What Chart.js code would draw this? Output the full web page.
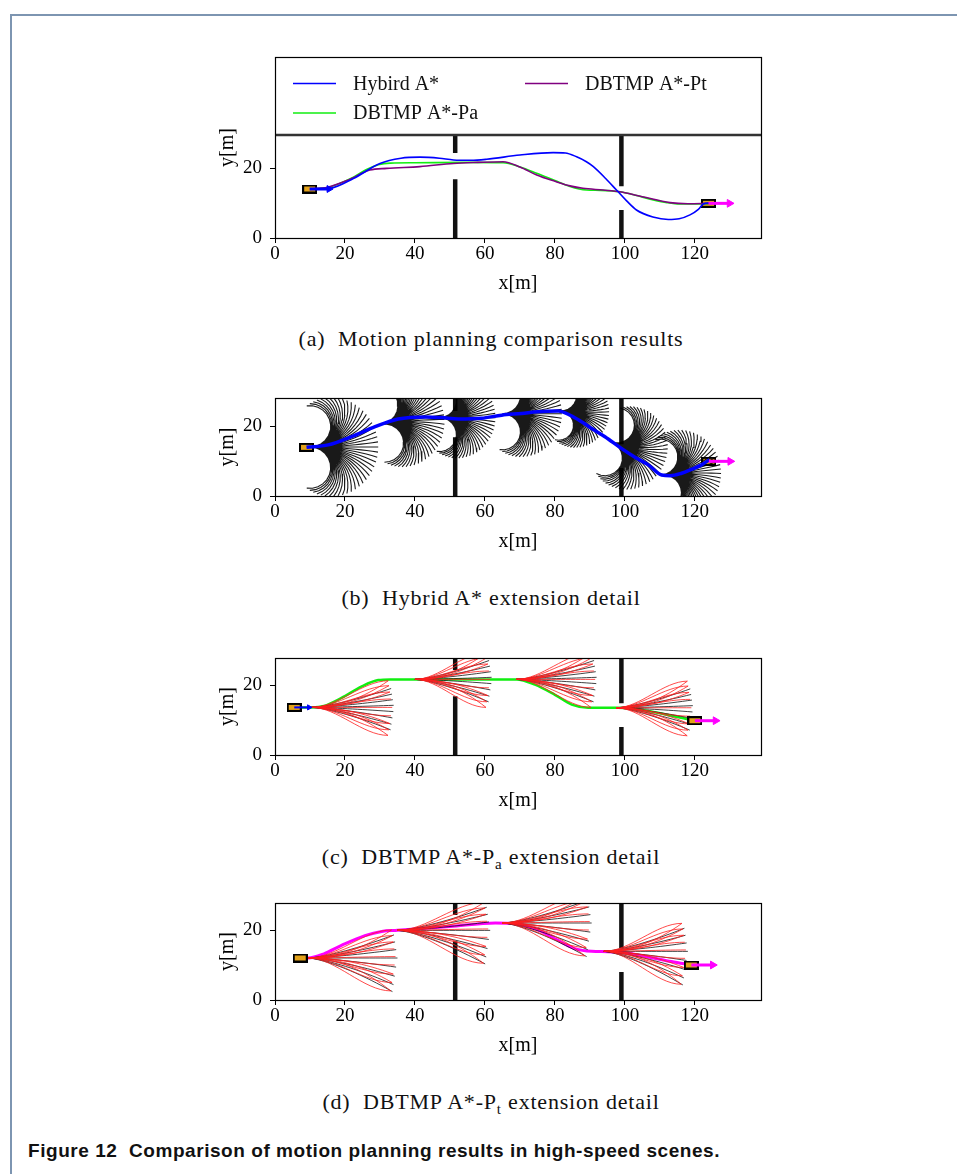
<!DOCTYPE html>
<html>
<head>
<meta charset="utf-8">
<script src="https://cdn.jsdelivr.net/npm/chart.js@4.4.1/dist/chart.umd.min.js"></script>
<style>
  body { margin: 0; background: #fff; width: 957px; height: 1174px; position: relative; overflow: hidden; }
  .frame { position: absolute; left: 10px; top: 14px; right: -10px; bottom: -10px;
           border-left: 2px solid #7d95b1; border-top: 2px solid #7d95b1; }
  .panel { position: absolute; left: 190px; width: 590px; }
  .sub { position: absolute; left: 0; width: 982px; text-align: center; line-height: 24px;
         font-family: "Liberation Serif", serif; font-size: 22px; letter-spacing: 0.8px; color: #111; }
  .sub i { font-style: normal; font-size: 15px; position: relative; top: 5px; }
  .fig { position: absolute; left: 28px; top: 1139px; line-height: 24px; letter-spacing: 0.55px;
         font-family: "Liberation Sans", sans-serif; font-weight: bold; font-size: 19px; color: #111; }
</style>
</head>
<body>
<div class="frame"></div>
<div class="panel" style="top:37px;height:261px"><canvas id="chartA"></canvas></div>
<div class="sub" style="top:327px">(a)&nbsp; Motion planning comparison results</div>
<div class="panel" style="top:378px;height:178px"><canvas id="chartB"></canvas></div>
<div class="sub" style="top:586px">(b)&nbsp; Hybrid A* extension detail</div>
<div class="panel" style="top:638px;height:177px"><canvas id="chartC"></canvas></div>
<div class="sub" style="top:845px">(c)&nbsp; DBTMP A*-P<i>a</i> extension detail</div>
<div class="panel" style="top:883px;height:177px"><canvas id="chartD"></canvas></div>
<div class="sub" style="top:1090px">(d)&nbsp; DBTMP A*-P<i>t</i> extension detail</div>
<div class="fig">Figure 12&nbsp; Comparison of motion planning results in high-speed scenes.</div>

<script>
"use strict";

// ---- axes ----
const xTicks = [0, 20, 40, 60, 80, 100, 120];
const yTicks = [0, 20];
const X_MAX = 138.9;
const chartTops = [57, 398, 658, 903];
const chartBottoms = [238, 496, 755, 1000];

// ---- scene: walls (x, yTop, yBottom) and the road edge in (a) ----
const wallSegments = [[51.5, 29.4, 24.3], [51.5, 16.8, -1], [99, 29.4, 14.8], [99, 8, -1]];
const roadEdgeY = 29.4;

// ---- vehicles ----
const startCar = [[9.9, 14], [9, 13.9], [5.5, 13.6], [7.2, 12]];
const endCar = [[123.9, 9.9], [124, 9.9], [120, 9.8], [119, 10]];
const startArrowTip = [16.6, null, 10.6, null];
const endArrowTip = [131.2, 131.4, 127.2, 126.4];

// ---- (a) planned paths ----
const hybridPathA = [[10, 14], [15.7, 14.2], [22.4, 17], [30, 21.3], [36, 22.8], [41.4, 23.1], [47, 22.8],
  [51, 22.3], [56, 22.2], [60.5, 22.5], [70, 23.7], [79.5, 24.4], [83, 24.3], [86.2, 23.2], [89, 21.8],
  [91, 20.4], [94.5, 17], [97.6, 13.7], [100.5, 10.6], [103.3, 8], [108, 6], [112.4, 5.3], [115.5, 5.5],
  [118.6, 6.6], [121, 8.2], [122.4, 9.7], [124, 10]];
const paPathA = [[10, 14], [15, 14.4], [22.4, 17.4], [26, 19.5], [29.5, 20.9], [33, 21.4], [40, 21.5],
  [55, 21.6], [65.2, 21.5], [70, 20.3], [74.8, 18.5], [80, 16.4], [84.3, 14.7], [89, 13.7], [93, 13.6],
  [98.6, 13.2], [103, 12.2], [108.1, 10.9], [112, 10.1], [115.7, 9.7], [124, 9.8]];
const ptPathA = [[10, 14], [15, 14.5], [21, 16.6], [27.1, 19.4], [31.9, 19.9], [41.4, 20.4], [51, 21.3],
  [58, 21.6], [65.2, 21.8], [70, 20.3], [74.8, 18], [80, 16.2], [84.3, 14.9], [88, 14.2], [93.8, 13.7],
  [98.6, 13.2], [105, 11.8], [112.9, 10.1], [118, 9.8], [124, 9.9]];

// ---- (b) hybrid A* path and expansion nodes ----
const hybridPathB = [[9, 13.9], [15.2, 14.6], [21.9, 16.95], [28.6, 19.8], [35.2, 22], [42.9, 22.6],
  [47.6, 22.4], [52.4, 22], [59, 22.2], [64.8, 23.1], [70.5, 23.6], [75, 24.1], [81, 24.3], [84.5, 23],
  [87.6, 21.2], [91, 19], [94.3, 16.95], [99, 13.6], [103, 11], [106.7, 8.9], [110.5, 6], [113, 5.8],
  [116.2, 6.5], [119, 7.6], [121.9, 8.9], [124.2, 10.4]];
const arcNodeX = [10, 30.5, 47, 65, 81.5, 96, 110.5];
const arcNodeY = [14, 20.5, 22.4, 23.5, 24.4, 15.5, 6];
const arcNodeHeading = [0, 0.15, 0, 0, -0.1, -0.35, 0.1];
const arcNodeLength = [19.5, 18, 16, 17, 14, 16.5, 17];
const ARC_COUNT = 45;
const ARC_SWEEP = 1.05 * Math.PI;

// ---- (c) DBTMP A*-Pa ----
const paPathC = [[5.5, 13.6], [10.5, 13.6], [14, 14], [19, 16.3], [24.8, 19.6], [29.5, 21.4], [33, 21.6],
  [69, 21.6], [74.3, 20.1], [80, 17.2], [84.8, 14.4], [89.5, 13.5], [98, 13.5], [106.7, 12.6],
  [113.3, 11.2], [120, 9.8]];
const laneNodesC = [[10.5, 13.6], [40, 21.6], [69, 21.6], [97.5, 13.5]];
const laneLengthC = [23, 21.5, 22.5, 21.5];
const redEndsC = [7.6, 6.2, 4.4, 2.4, 0, -2.4, -4.6, -6.4, -8];
const blackEndsC = [5.4, 3.8, 2.2, 0.6, -1.2, -3, -4.8, -6.4];

// ---- (d) DBTMP A*-Pt ----
const ptPathD = [[7.2, 12], [9.5, 12], [14, 13.2], [19, 15.6], [25.7, 18.4], [30.5, 19.6], [35, 19.9],
  [50, 21], [63, 22], [68.6, 21.8], [74.3, 20.4], [80, 17.5], [85.7, 14.7], [90.5, 13.9], [95, 13.8],
  [100, 13.5], [106.7, 12.3], [113.3, 11], [119, 10]];
const laneNodesD = [[9.5, 12], [35, 19.9], [65, 22], [94, 13.9]];
const laneLengthD = [25, 26, 25, 23.5];
const redEndsD = [8, 6.4, 4.6, 2.6, 0.4, -2, -4.6, -7, -9.4];
const blackEndsD = [6.6, 4.6, 2.4, 0, -2.6, -5.2, -7.6, -9.6];

// ---------------------------------------------------------------

const toPts = (arr) => arr.map(([x, y]) => ({ x, y }));

// several polylines packed into one dataset, split by null points
function packLines(lines) {
  const out = [];
  lines.forEach((line, i) => {
    if (i) out.push({ x: null, y: null });
    line.forEach(([x, y]) => out.push({ x, y }));
  });
  return out;
}

// constant-curvature motion primitives fanning out of one node
function arcFan(x0, y0, h, len) {
  const lines = [];
  for (let k = 0; k < ARC_COUNT; k++) {
    const phi = -ARC_SWEEP + (2 * ARC_SWEEP * k) / (ARC_COUNT - 1);
    const pts = [];
    for (let i = 0; i <= 12; i++) {
      const s = (len * i) / 12;
      const a = (phi * i) / 12;
      if (Math.abs(phi) < 1e-6) {
        pts.push([x0 + s * Math.cos(h), y0 + s * Math.sin(h)]);
      } else {
        const r = len / phi;
        pts.push([x0 + r * (Math.sin(h + a) - Math.sin(h)), y0 - r * (Math.cos(h + a) - Math.cos(h))]);
      }
    }
    lines.push(pts);
  }
  return lines;
}

const sCurve = (t) => t * t * (3 - 2 * t);
const bowCurve = (t) => t * t;
const rayCurve = (t) => Math.pow(t, 1.4);

// lane-change candidates from one node towards lateral offsets
function laneFan(x0, y0, len, ends, shape) {
  return ends.map((dy) => {
    const pts = [];
    const l = len - 0.15 * Math.abs(dy);
    for (let i = 0; i <= 16; i++) {
      const t = i / 16;
      pts.push([x0 + l * t, y0 + dy * shape(t)]);
    }
    return pts;
  });
}

function carIcon() {
  const c = document.createElement("canvas");
  c.width = 15;
  c.height = 9;
  const g = c.getContext("2d");
  g.fillStyle = "#000";
  g.fillRect(0, 0, 15, 9);
  g.fillStyle = "#e3a21a";
  g.fillRect(2, 2, 11, 5);
  return c;
}
const CAR = carIcon();

const lineSet = (label, data, color, width, order, extra) =>
  Object.assign(
    { label, data, borderColor: color, backgroundColor: color, borderWidth: width, showLine: true,
      pointRadius: 0, spanGaps: false, order },
    extra || {}
  );

const smooth = { cubicInterpolationMode: "monotone" };

function sceneSets(p, carOrder) {
  const walls = packLines(wallSegments.map(([x, y1, y2]) => [[x, y1], [x, y2]]));
  const sets = [lineSet("walls", walls, "#111", 4.5, 90)];
  if (p === 0) {
    sets.push(lineSet("road", toPts([[0, roadEdgeY], [X_MAX, roadEdgeY]]), "#333", 2.5, 89));
  }
  sets.push({
    label: "cars", data: toPts([startCar[p], endCar[p]]), pointStyle: CAR, pointRadius: 7,
    showLine: false, order: carOrder,
  });
  const y1 = endCar[p][1];
  const tip = endArrowTip[p];
  sets.push(lineSet("end arrow", toPts([[endCar[p][0], y1], [tip - 1.1, y1]]), "#ff00ff", 3, 30));
  sets.push({
    label: "end head", data: toPts([[tip - 1.29, y1]]), pointStyle: "triangle", rotation: 90,
    pointRadius: 4.5, backgroundColor: "#ff00ff", borderColor: "#ff00ff", showLine: false, order: 29,
  });
  if (startArrowTip[p] !== null) {
    const [sx, sy] = startCar[p];
    const st = startArrowTip[p];
    const r = p === 0 ? 4 : 3;
    sets.push(lineSet("start arrow", toPts([[sx, sy], [st - 1, sy]]), "#0000ff", p === 0 ? 3 : 2, 30));
    sets.push({
      label: "start head", data: toPts([[st - r / 3.5, sy]]), pointStyle: "triangle", rotation: 90,
      pointRadius: r, backgroundColor: "#0000ff", borderColor: "#0000ff", showLine: false, order: 29,
    });
  }
  return sets;
}

// legend drawn inside the top of panel (a), two columns
const insideLegend = {
  id: "insideLegend",
  afterDatasetsDraw(chart) {
    const items = chart.data.datasets.filter((d) => d.legendSlot);
    if (!items.length) return;
    const { ctx, chartArea } = chart;
    ctx.save();
    ctx.font = '20px "Liberation Serif"';
    ctx.textBaseline = "middle";
    items.forEach((d) => {
      const [col, row] = d.legendSlot;
      const x = chartArea.left + 18 + col * 232;
      const y = chartArea.top + 26.5 + row * 29.5;
      ctx.strokeStyle = d.borderColor;
      ctx.lineWidth = 1.5;
      ctx.beginPath();
      ctx.moveTo(x, y);
      ctx.lineTo(x + 43, y);
      ctx.stroke();
      ctx.fillStyle = "#111";
      ctx.fillText(d.label, x + 60, y + 1);
    });
    ctx.restore();
  },
};

const frameBox = {
  id: "frameBox",
  afterDraw(chart) {
    const { ctx, chartArea: a } = chart;
    ctx.save();
    ctx.strokeStyle = "#000";
    ctx.lineWidth = 1.2;
    ctx.strokeRect(Math.round(a.left) + 0.5, Math.round(a.top) + 0.5, Math.round(a.right - a.left), Math.round(a.bottom - a.top));
    ctx.restore();
  },
};

function makeChart(id, p, datasets) {
  const yMax = (chartBottoms[p] - chartTops[p]) / 3.5;
  const tickFont = { family: "Liberation Serif", size: 19 };
  const titleFont = { family: "Liberation Serif", size: 20 };
  const grid = { drawOnChartArea: false, tickLength: 5, color: "#000", tickColor: "#000" };
  return new Chart(document.getElementById(id), {
    type: "scatter",
    data: { datasets },
    options: {
      animation: false,
      responsive: true,
      maintainAspectRatio: false,
      layout: { padding: { top: 20, right: 19, bottom: 0, left: 0 } },
      plugins: { legend: { display: false }, tooltip: { enabled: false } },
      scales: {
        x: {
          type: "linear", min: 0, max: X_MAX,
          afterBuildTicks: (s) => { s.ticks = xTicks.map((v) => ({ value: v })); },
          afterFit: (s) => { s.height = 60; },
          grid, border: { color: "#000" },
          ticks: { color: "#000", font: tickFont, padding: 0, maxRotation: 0, autoSkip: false },
          title: { display: true, text: "x[m]", color: "#000", font: titleFont, padding: { top: 0, bottom: 2 } },
        },
        y: {
          type: "linear", min: 0, max: yMax,
          afterBuildTicks: (s) => { s.ticks = yTicks.map((v) => ({ value: v })); },
          afterFit: (s) => { s.width = 85; },
          grid, border: { color: "#000" },
          ticks: { color: "#000", font: tickFont, padding: 8 },
          title: { display: true, text: "y[m]", color: "#000", font: titleFont, padding: { top: 26, bottom: 0 } },
        },
      },
    },
    plugins: [insideLegend, frameBox],
  });
}

// (a) comparison
makeChart("chartA", 0, [
  lineSet("Hybird A*", toPts(hybridPathA), "#0000ff", 1.6, 40, Object.assign({ legendSlot: [0, 0] }, smooth)),
  lineSet("DBTMP A*-Pt", toPts(ptPathA), "#800080", 1.6, 41, Object.assign({ legendSlot: [1, 0] }, smooth)),
  lineSet("DBTMP A*-Pa", toPts(paPathA), "#11ee11", 1.6, 42, Object.assign({ legendSlot: [0, 1] }, smooth)),
  ...sceneSets(0, 45),
]);

// (b) hybrid A* expansion
const arcLines = [];
arcNodeX.forEach((x, i) => arcLines.push(...arcFan(x, arcNodeY[i], arcNodeHeading[i], arcNodeLength[i])));
makeChart("chartB", 1, [
  lineSet("Hybird A*", toPts(hybridPathB), "#0000ff", 3.5, 40, smooth),
  lineSet("expansion", packLines(arcLines), "rgba(0,0,0,0.9)", 1.1, 60),
  ...sceneSets(1, 65),
]);

function laneSets(nodes, lens, redEnds, blackEnds) {
  const red = [];
  const black = [];
  nodes.forEach(([x, y], i) => {
    red.push(...laneFan(x, y, lens[i], redEnds, sCurve));
    red.push(...laneFan(x, y, lens[i], redEnds.filter((d) => Math.abs(d) > 4), bowCurve));
    black.push(...laneFan(x, y, lens[i] + 0.5, blackEnds, rayCurve));
  });
  return [
    lineSet("candidates", packLines(red), "rgba(255,30,30,0.8)", 1, 58),
    lineSet("primitives", packLines(black), "rgba(20,20,20,0.8)", 1, 61),
  ];
}

// (c) DBTMP A*-Pa expansion
makeChart("chartC", 2, [
  lineSet("DBTMP A*-Pa", toPts(paPathC), "#11ee11", 2.5, 70, smooth),
  ...laneSets(laneNodesC, laneLengthC, redEndsC, blackEndsC),
  ...sceneSets(2, 45),
]);

// (d) DBTMP A*-Pt expansion
makeChart("chartD", 3, [
  lineSet("DBTMP A*-Pt", toPts(ptPathD), "#ff00ff", 3, 70, smooth),
  ...laneSets(laneNodesD, laneLengthD, redEndsD, blackEndsD),
  ...sceneSets(3, 45),
]);
</script>
</body>
</html>
